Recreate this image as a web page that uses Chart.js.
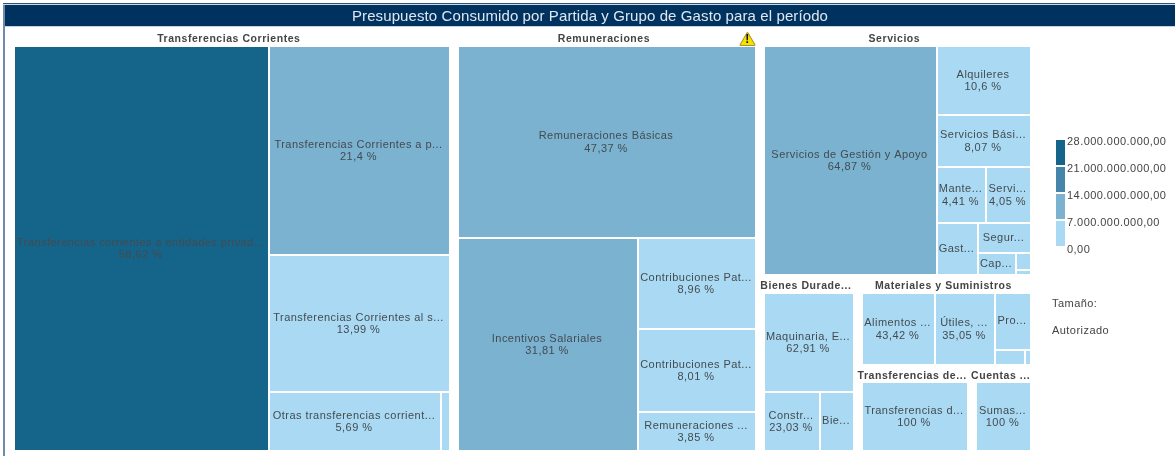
<!DOCTYPE html>
<html><head><meta charset="utf-8">
<style>html,body{margin:0;padding:0;background:#fff}#w{position:absolute;left:0;top:0;width:1175px;height:456px}</style>
<script src="https://cdn.jsdelivr.net/npm/chart.js@4"></script></head>
<body><div id="w"><canvas id="c"></canvas></div>
<script>
const chartTitle = 'Presupuesto Consumido por Partida y Grupo de Gasto para el período';
const groupNames = ['Transferencias Corrientes','Remuneraciones','Servicios','Bienes Durade...','Materiales y Suministros','Transferencias de...','Cuentas ...'];
// group totals, billions (estimated from area)
const groupTotals = [40,27.5,14.46,3.67,3.38,2.1,1.15];
const transfLabels = ['Transferencias corrientes a entidades privad...','Transferencias Corrientes a p...','Transferencias Corrientes al s...','Otras transferencias corrient...',''];
const transfShares = [58.62,21.4,13.99,5.69,0.3];
const remLabels = ['Remuneraciones Básicas','Incentivos Salariales','Contribuciones Pat...','Contribuciones Pat...','Remuneraciones ...'];
const remShares = [47.37,31.81,8.96,8.01,3.85];
const servLabels = ['Servicios de Gestión y Apoyo','Alquileres','Servicios Bási...','Mante...','Servi...','Gast...','Segur...','Cap...','',''];
const servShares = [64.87,10.6,8.07,4.41,4.05,3.5,2.6,1.4,0.42,0.13];
const bienesLabels = ['Maquinaria, E...','Constr...','Bie...'];
const bienesShares = [62.91,23.03,14.06];
const matLabels = ['Alimentos ...','Útiles, ...','Pro...','',''];
const matShares = [43.42,35.05,17.2,3.6,0.73];
const transdLabels = ['Transferencias d...'];
const transdShares = [100];
const cuentasLabels = ['Sumas...'];
const cuentasShares = [100];
// labels that show no percent in the reference because the cell is too small
const hiddenPct = ['Gast...','Segur...','Cap...','Bie...','Pro...'];
const legendTicks = ['28.000.000.000,00','21.000.000.000,00','14.000.000.000,00','7.000.000.000,00','0,00'];
const binColors = ['#15658a','#4585aa','#7ab2d0','#aadaf3'];
const sizeCaption = ['Tamaño:','Autorizado'];

const groupLabels = [transfLabels,remLabels,servLabels,bienesLabels,matLabels,transdLabels,cuentasLabels];
const groupShares = [transfShares,remShares,servShares,bienesShares,matShares,transdShares,cuentasShares];
// split order of the treemap: 'h' = side by side, 'v' = stacked
const rootTree = ['h',0,1,['v',2,['h',3,['v',4,['h',5,6]]]]];
const groupTrees = [
  ['h',0,['v',1,2,['h',3,4]]],
  ['v',0,['h',1,['v',2,3,4]]],
  ['h',0,['v',1,2,['h',3,4],['h',5,['v',6,['h',7,['v',8,9]]]]]],
  ['v',0,['h',1,2]],
  ['h',0,1,['v',2,['h',3,4]]],
  ['h',0],['h',0]
];
const treeSum=(t,w)=>Array.isArray(t)?t.slice(1).reduce((s,c)=>s+treeSum(c,w),0):w[t];
function slice(t,w,r,out){
  if(!Array.isArray(t)){out[t]=r;return out;}
  const tot=treeSum(t,w);let p=t[0]==='h'?r.x0:r.y0;
  t.slice(1).forEach(c=>{
    const f=treeSum(c,w)/tot;
    if(t[0]==='h'){const e=p+(r.x1-r.x0)*f;slice(c,w,{x0:p,x1:e,y0:r.y0,y1:r.y1},out);p=e;}
    else{const e=p+(r.y1-r.y0)*f;slice(c,w,{x0:r.x0,x1:r.x1,y0:p,y1:e},out);p=e;}
  });
  return out;
}
const HEAD=14.5,GX=8,GY=3,IN=2;
const rootBox={x0:14.5,x1:1040,y0:32,y1:455};
const groupBoxes=slice(rootTree,groupTotals,rootBox,[]);
const binColor=v=>v>=21?binColors[0]:v>=14?binColors[1]:v>=7?binColors[2]:binColors[3];
const cells=[];const heads=[];
groupBoxes.forEach((b,g)=>{
  const inner={x0:b.x0,x1:b.x1-GX,y0:b.y0+HEAD,y1:b.y1-GY};
  heads.push({name:groupNames[g],x:(inner.x0+inner.x1-IN)/2-3,y:b.y0+7});
  const rs=slice(groupTrees[g],groupShares[g],inner,[]);
  rs.forEach((r,i)=>{
    const share=groupShares[g][i];
    cells.push({x:r.x0,y:r.y0,x1:r.x1,y1:r.y1,label:groupLabels[g][i],share,value:groupTotals[g]*share/100});
  });
});

class TreemapController extends Chart.DatasetController{
  update(mode){this.updateElements(this._cachedMeta.data,0,this._cachedMeta.data.length,mode);}
  updateElements(els,start,count,mode){
    const m=this._cachedMeta,xs=m.xScale,ys=m.yScale;
    for(let i=start;i<start+count;i++){
      const d=this.getDataset().data[i];
      const l=Math.round(xs.getPixelForValue(d.x)),r=Math.round(xs.getPixelForValue(d.x1))-IN;
      const t=Math.round(ys.getPixelForValue(d.y)),b=Math.round(ys.getPixelForValue(d.y1))-IN;
      this.updateElement(els[i],i,{x:(l+r)/2,width:r-l,y:t,base:b,height:b-t,horizontal:false,
        borderSkipped:{},enableBorderRadius:false,inflateAmount:0,
        options:this.resolveDataElementOptions(i,mode)},mode);
    }
  }
}
TreemapController.id='treemap';
TreemapController.defaults={dataElementType:'bar',datasetElementType:false};
Chart.register(TreemapController);

const FONT='"Liberation Sans", Arial, sans-serif';
const SP='0.45px';
const INK='#434b50';
function txt(ctx,s,x,y,font,color,align){ctx.font=font;ctx.fillStyle=color;ctx.textAlign=align||'center';ctx.textBaseline='middle';ctx.fillText(s,x,y);}
const chrome={id:'chrome',
  beforeDraw(ch){const c=ch.ctx;c.save();
    c.fillStyle='#fff';c.fillRect(0,0,1175,456);
    c.fillStyle='#6f8cab';c.fillRect(3,5,2,451);
    c.fillStyle='#2a5580';c.fillRect(3,3,1172,1);
    c.fillStyle='#cdd9e4';c.fillRect(3,4,1172,1);
    c.fillStyle='#003260';c.fillRect(5,5,1170,21);
    c.fillStyle='#c4d4e2';c.fillRect(5,26,1170,1);
    c.restore();c.letterSpacing='0.1px';},
  afterDatasetsDraw(ch){const c=ch.ctx,m=ch.getDatasetMeta(0);c.save();c.letterSpacing=SP;
    m.data.forEach((el,i)=>{const d=cells[i];if(!d.label)return;
      const cy=(el.y+el.base)/2;const hide=hiddenPct.includes(d.label);
      const cx=el.x-1;
      if(hide){txt(c,d.label,cx,cy-0.5,'11px '+FONT,INK);}
      else{txt(c,d.label,cx,cy-6,'11px '+FONT,INK);
        txt(c,String(d.share).replace('.',',')+' %',cx,cy+6.5,'11px '+FONT,INK);}
    });
    c.letterSpacing='0.55px';
    heads.forEach(h=>txt(c,h.name,h.x,h.y,'bold 10.5px '+FONT,'#444'));
    c.letterSpacing=SP;
    // warning icon
    c.beginPath();c.moveTo(747.5,33);c.lineTo(754.5,45);c.lineTo(740.5,45);c.closePath();c.lineJoin='round';c.fillStyle='#f6e200';c.strokeStyle='#a8962a';c.lineWidth=2;c.stroke();c.fill();
    txt(c,'!',747.5,40,'bold 12px '+FONT,'#111');
    // size legend
    const lx=1056,lw=9,top=140,step=27;
    binColors.forEach((col,i)=>{c.fillStyle=col;c.fillRect(lx,top+i*step,lw,25);});
    legendTicks.forEach((t,i)=>txt(c,t,1067,top+2+i*step,'11px '+FONT,'#444','left'));
    txt(c,sizeCaption[0],1052,304,'11px '+FONT,'#444','left');
    txt(c,sizeCaption[1],1052,331,'11px '+FONT,'#444','left');
    c.restore();}
};
new Chart(document.getElementById('c'),{
  type:'treemap',
  data:{datasets:[{data:cells,parsing:false,normalized:true,
    backgroundColor:cells.map(d=>binColor(d.value)),borderWidth:0}]},
  plugins:[chrome],
  options:{responsive:true,maintainAspectRatio:false,animation:false,
    layout:{padding:{left:5,right:0,top:0,bottom:0}},
    plugins:{legend:{display:false},tooltip:{enabled:false},
      title:{display:true,text:chartTitle,color:'#dfe7ef',font:{family:FONT,size:15,weight:'normal',lineHeight:1.12},padding:{top:8,bottom:2.2}}},
    scales:{x:{type:'linear',display:false,min:5,max:1175},
            y:{type:'linear',display:false,reverse:true,min:27,max:456}}}
});
</script></body></html>
